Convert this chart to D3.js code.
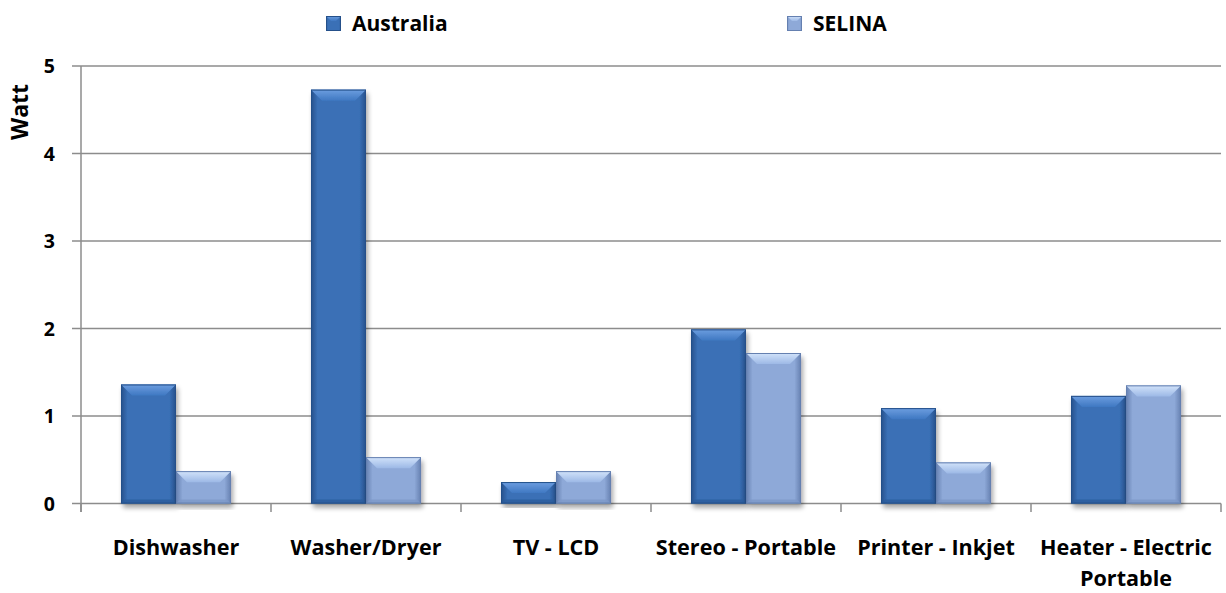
<!DOCTYPE html>
<html><head><meta charset="utf-8">
<script src="https://cdn.jsdelivr.net/npm/d3@7"></script>
<style>
body{margin:0;background:#fff;}
text{font-family:"Open Sans",Lato,sans-serif;font-weight:bold;fill:#000;}
</style></head>
<body><svg id="c" width="1226" height="593"></svg>
<script>
const categories = ["Dishwasher","Washer/Dryer","TV - LCD","Stereo - Portable","Printer - Inkjet","Heater - Electric|Portable"];
const seriesNames = ["Australia","SELINA"];
const australia = [1.36, 4.73, 0.245, 1.99, 1.09, 1.23];
const selina = [0.37, 0.53, 0.37, 1.72, 0.47, 1.35];
const yTicks = [0,1,2,3,4,5];

const svg = d3.select("#c");
const L=81, R=1221, T=66, B=503.5;
const x0 = d3.scaleBand().domain(categories).range([L,R]).padding(0);
const x1 = d3.scaleBand().domain(seriesNames).range([0,x0.bandwidth()]).paddingInner(0).paddingOuter(0.727);
const y = d3.scaleLinear().domain([0,5]).range([B,T]);

const styles = {
  "Australia": {edge:"#25508a", mid:"#3a70b6", top1:"#6d9ee0", top2:"#3f78c2", bot:"#2c5c9c"},
  "SELINA": {edge:"#6580b0", mid:"#8ea9d8", top1:"#d2e3fa", top2:"#9db9e6", bot:"#7d98c8"}
};
const defs = svg.append("defs");
Object.entries(styles).forEach(([k,s],i)=>{
  const g = defs.append("linearGradient").attr("id","body"+i).attr("x1",0).attr("x2",1).attr("y1",0).attr("y2",0);
  g.append("stop").attr("offset","0").attr("stop-color",s.edge);
  g.append("stop").attr("offset","0.12").attr("stop-color",s.mid);
  g.append("stop").attr("offset","0.88").attr("stop-color",s.mid);
  g.append("stop").attr("offset","1").attr("stop-color",s.edge);
  const t = defs.append("linearGradient").attr("id","top"+i).attr("x1",0).attr("x2",0).attr("y1",0).attr("y2",1);
  t.append("stop").attr("offset","0").attr("stop-color",s.top1);
  t.append("stop").attr("offset","1").attr("stop-color",s.top2);
});
const f = defs.append("filter").attr("id","sh").attr("x","-20%").attr("y","-20%").attr("width","140%").attr("height","140%");
f.append("feGaussianBlur").attr("in","SourceAlpha").attr("stdDeviation",2.5);
f.append("feOffset").attr("dx",2).attr("dy",4).attr("result","o");
f.append("feComponentTransfer").append("feFuncA").attr("type","linear").attr("slope",0.35);
const m = f.append("feMerge"); m.append("feMergeNode"); m.append("feMergeNode").attr("in","SourceGraphic");

// gridlines
svg.append("g").selectAll("line").data(yTicks).join("line")
  .attr("x1",L-9).attr("x2",R).attr("y1",d=>y(d)).attr("y2",d=>y(d))
  .attr("stroke","#8c8c8c").attr("stroke-width",1.5);
// y axis line
svg.append("line").attr("x1",L).attr("x2",L).attr("y1",T).attr("y2",B+8.5).attr("stroke","#8c8c8c").attr("stroke-width",1.5);
// x ticks at category boundaries
const bounds = categories.map(c=>x0(c)).concat([R]);
svg.append("g").selectAll("line").data(bounds).join("line")
  .attr("x1",d=>d).attr("x2",d=>d).attr("y1",B).attr("y2",B+8.5)
  .attr("stroke","#8c8c8c").attr("stroke-width",1.5);

// y tick labels
svg.append("g").selectAll("text").data(yTicks).join("text")
  .attr("x",L-26).attr("y",d=>y(d)).attr("dy","0.36em").attr("text-anchor","end")
  .attr("font-size",19.5).text(d=>d);
svg.append("text").attr("transform","translate(28,112) rotate(-90)").attr("text-anchor","middle")
  .attr("font-size",23).text("Watt");

// x labels
const xl = svg.append("g").selectAll("text").data(categories).join("text")
  .attr("x",d=>x0(d)+x0.bandwidth()/2).attr("y",554.5).attr("text-anchor","middle").attr("font-size",21.6);
xl.each(function(d){
  const parts=d.split("|"); const t=d3.select(this);
  parts.forEach((p,i)=>t.append("tspan").attr("x",x0(d)+x0.bandwidth()/2).attr("dy",i?31:0).text(p));
});

// bars
const data = [];
categories.forEach((c,i)=>{ data.push({c,s:"Australia",v:australia[i],k:0}); data.push({c,s:"SELINA",v:selina[i],k:1}); });
const bars = svg.append("g").selectAll("g").data(data).join("g").attr("filter","url(#sh)");
bars.each(function(d){
  const g=d3.select(this);
  const bx=x0(d.c)+x1(d.s), w=x1.bandwidth(), yt=y(d.v), h=B-yt;
  const s=styles[d.s];
  g.append("rect").attr("x",bx).attr("y",yt).attr("width",w).attr("height",h).attr("fill","url(#body"+d.k+")");
  const b=Math.min(11,h);
  g.append("path").attr("d",`M${bx},${yt}L${bx+w},${yt}L${bx+w-b},${yt+b}L${bx+b},${yt+b}Z`).attr("fill","url(#top"+d.k+")");
  const bb=Math.min(4,h/2);
  g.append("path").attr("d",`M${bx},${B}L${bx+w},${B}L${bx+w-bb},${B-bb}L${bx+bb},${B-bb}Z`).attr("fill",s.bot).attr("opacity",0.8);
  g.append("rect").attr("x",bx+0.5).attr("y",yt+0.5).attr("width",w-1).attr("height",Math.max(0,h-1)).attr("fill","none").attr("stroke",s.edge).attr("stroke-width",1);
});

// legend
const leg = [{s:"Australia",x:326,k:0},{s:"SELINA",x:787,k:1}];
const lg = svg.append("g").selectAll("g").data(leg).join("g").attr("transform",d=>`translate(${d.x},16)`);
lg.append("rect").attr("width",15).attr("height",15).attr("fill",d=>"url(#body"+d.k+")");
lg.append("path").attr("d","M0,0L15,0L10,5L5,5Z").attr("fill",d=>"url(#top"+d.k+")");
lg.append("rect").attr("x",0.5).attr("y",0.5).attr("width",14).attr("height",14).attr("fill","none").attr("stroke",d=>styles[d.s].edge);
lg.append("text").attr("x",26).attr("y",7.5).attr("dy","0.36em").attr("font-size",21).text(d=>d.s);
</script></body></html>
